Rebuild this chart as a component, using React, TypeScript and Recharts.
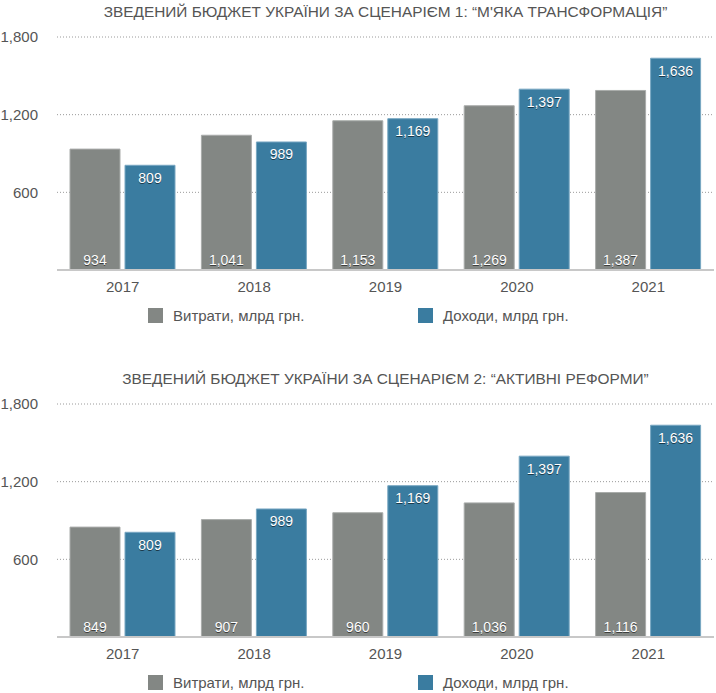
import React from 'react';
import { BarChart, Bar, XAxis, YAxis, CartesianGrid, Legend, LabelList } from 'recharts';

const years = ['2017', '2018', '2019', '2020', '2021'];
const spending1 = [934, 1041, 1153, 1269, 1387];
const revenue1 = [809, 989, 1169, 1397, 1636];
const spending2 = [849, 907, 960, 1036, 1116];
const revenue2 = [809, 989, 1169, 1397, 1636];
const yTicks = [600, 1200, 1800];
const title1 = 'ЗВЕДЕНИЙ БЮДЖЕТ УКРАЇНИ ЗА СЦЕНАРІЄМ 1: “М\'ЯКА ТРАНСФОРМАЦІЯ”';
const title2 = 'ЗВЕДЕНИЙ БЮДЖЕТ УКРАЇНИ ЗА СЦЕНАРІЄМ 2: “АКТИВНІ РЕФОРМИ”';
const seriesNames = ['Витрати, млрд грн.', 'Доходи, млрд грн.'];

const GREY = '#838784';
const GREY_EDGE = '#a9acaa';
const BLUE = '#3a7ca0';
const BLUE_EDGE = '#78a7c2';
const TEXT = '#555555';
const FONT = '"Liberation Sans", Arial, Helvetica, sans-serif';

const makeLabel = (pos: 'bottom' | 'top') => (props: any) => {
  const { x, y, width, height, value } = props;
  const cx = Number(x) + Number(width) / 2;
  const ty = pos === 'bottom' ? Number(y) + Number(height) - 5 : Number(y) + 17.5;
  const txt = Number(value).toLocaleString('en-US');
  return (
    <g>
      <text x={cx} y={ty + 1} textAnchor="middle" fill="rgba(0,0,0,0.55)" fontSize={14} fontFamily={FONT}>
        {txt}
      </text>
      <text x={cx} y={ty} textAnchor="middle" fill="#ffffff" fontSize={14} fontFamily={FONT}>
        {txt}
      </text>
    </g>
  );
};

const legendLefts = [148, 418];

const renderLegend = (props: any) => {
  const payload = props.payload || [];
  return (
    <div style={{ position: 'relative', width: 716, height: 40 }}>
      {payload.map((p: any, i: number) => (
        <div
          key={i}
          style={{
            position: 'absolute',
            left: legendLefts[i],
            top: 8,
            display: 'flex',
            alignItems: 'center',
            height: 15,
          }}
        >
          <span style={{ display: 'inline-block', width: 15, height: 15, background: p.color }} />
          <span style={{ marginLeft: 10, fontSize: 15, color: TEXT, fontFamily: FONT, lineHeight: '15px' }}>
            {p.value}
          </span>
        </div>
      ))}
    </div>
  );
};

function BudgetChart({ title, spending, revenue, top }: { title: string; spending: number[]; revenue: number[]; top: number }) {
  const data = years.map((year, i) => ({ year, spending: spending[i], revenue: revenue[i] }));
  return (
    <div style={{ position: 'absolute', left: 0, top, width: 716, height: 340 }}>
      <div
        style={{
          position: 'absolute',
          top: 3.5,
          left: 57,
          width: 657,
          textAlign: 'center',
          fontSize: 15.4,
          lineHeight: '15.4px',
          color: TEXT,
          fontFamily: FONT,
          whiteSpace: 'nowrap',
        }}
      >
        {title}
      </div>
      <BarChart
        width={716}
        height={340}
        data={data}
        margin={{ top: 37, right: 2, left: 0, bottom: 0 }}
        barGap={5}
        barSize={50}
      >
        <CartesianGrid vertical={false} stroke="#9a9a9a" strokeDasharray="1 2" />
        <XAxis
          dataKey="year"
          height={30}
          tickLine={false}
          axisLine={{ stroke: '#c8c8c8', strokeWidth: 2 }}
          tick={{ fill: TEXT, fontSize: 15 }}
          tickMargin={5}
        />
        <YAxis
          width={57}
          domain={[0, 1800]}
          ticks={yTicks}
          tickFormatter={(v: number) => v.toLocaleString('en-US')}
          axisLine={false}
          tickLine={false}
          tickSize={0}
          tickMargin={19}
          tick={{ fill: TEXT, fontSize: 15 }}
        />
        <Legend verticalAlign="bottom" content={renderLegend} />
        <Bar dataKey="spending" name={seriesNames[0]} fill={GREY} stroke={GREY_EDGE} strokeWidth={1} isAnimationActive={false}>
          <LabelList dataKey="spending" content={makeLabel('bottom')} />
        </Bar>
        <Bar dataKey="revenue" name={seriesNames[1]} fill={BLUE} stroke={BLUE_EDGE} strokeWidth={1} isAnimationActive={false}>
          <LabelList dataKey="revenue" content={makeLabel('top')} />
        </Bar>
      </BarChart>
    </div>
  );
}

export default function App() {
  return (
    <div style={{ position: 'absolute', left: 0, top: 0, width: 716, height: 693, background: '#ffffff', fontFamily: FONT }}>
      <BudgetChart title={title1} spending={spending1} revenue={revenue1} top={0} />
      <BudgetChart title={title2} spending={spending2} revenue={revenue2} top={367} />
    </div>
  );
}
